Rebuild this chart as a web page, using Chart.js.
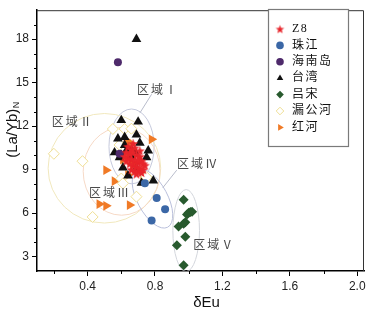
<!DOCTYPE html>
<html>
<head>
<meta charset="utf-8">
<script src="https://cdn.jsdelivr.net/npm/chart.js@4.4.1/dist/chart.umd.min.js"></script>
<style>
  html, body { margin: 0; padding: 0; background: #fff; }
  #wrap { width: 374px; height: 310px; }
</style>
</head>
<body>
<div id="wrap"><canvas id="chart" width="374" height="310"></canvas></div>
<script>
// ---- data: [δEu, (La/Yb)N] ----
const seriesNames = ["Z8", "珠江", "海南岛", "台湾", "吕宋", "漏公河", "红河"];

const z8 = [[0.64,10.6],[0.66,10.4],[0.68,10.5],[0.63,10.2],[0.65,10.1],[0.67,10.2],[0.69,10.0],
  [0.71,9.9],[0.64,9.8],[0.66,9.7],[0.68,9.6],[0.70,9.5],[0.72,9.6],[0.73,9.4],[0.67,9.3],
  [0.69,9.2],[0.71,9.1],[0.74,9.3],[0.70,8.9],[0.72,8.8],[0.68,8.9],[0.66,9.0],[0.62,9.9],
  [0.65,9.4],[0.70,9.7],[0.73,9.0],[0.69,8.7],[0.67,10.8],[0.71,10.3],[0.63,9.6]];
const zhujiang = [[0.74,8.05],[0.81,7.04],[0.86,6.27],[0.78,5.49]];
const hainan = [[0.58,16.4],[0.59,10.1]];
const taiwan = [[0.69,18.0],[0.60,12.4],[0.70,12.3],[0.58,11.13],[0.69,11.4],[0.62,11.24],
  [0.71,10.84],[0.56,10.18],[0.59,9.84],[0.76,10.31],[0.75,9.84],[0.61,9.13],[0.64,8.58],
  [0.69,9.09],[0.79,8.24],[0.72,8.07],[0.66,10.36],[0.68,10.24],[0.62,10.69],[0.63,10.31],
  [0.66,9.9],[0.60,10.0]];
const luzon = [[0.97,6.91],[1.00,6.02],[1.01,6.07],[1.02,6.09],[0.99,5.9],[0.98,5.36],
  [0.97,5.26],[0.94,5.07],[0.98,4.36],[0.93,3.78],[0.97,2.4]];
const lugong = [[0.20,10.09],[0.37,9.58],[0.55,11.8],[0.62,11.8],[0.66,11.82],[0.60,8.38],
  [0.61,8.05],[0.69,7.13],[0.43,5.73],[0.75,8.47],[0.59,10.7]];
const hongHe = [[0.63,11.02],[0.78,11.09],[0.61,9.69],[0.51,8.96],[0.56,8.2],[0.64,8.64],
  [0.73,8.24],[0.47,6.62],[0.51,6.5],[0.65,6.55],[0.65,10.85],[0.67,9.35],[0.63,10.0]];

const xTicks = [0.4, 0.8, 1.2, 1.6, 2.0];
const xMinor = [0.2, 0.6, 1.0, 1.4, 1.8];
const yTicks = [3, 6, 9, 12, 15, 18];
const yMinor = [4, 5, 7, 8, 10, 11, 13, 14, 16, 17, 19];

// region annotations (centre / half-axes in data units)
const regionNames = ["区域Ⅰ", "区域Ⅱ", "区域Ⅲ", "区域Ⅳ", "区域Ⅴ"];
const regionCentres = [[0.661,10.6],[0.50,9.09],[0.602,8.88],[0.785,7.0],[0.985,4.79]];
const regionHalfAxes = [[0.134,2.58],[0.334,3.78],[0.228,3.03],[0.09,2.24],[0.079,2.83]];
const regionTilt = [0, 0, 0, -28, 0];
const regionColors = ["#c5c9dc", "#f1e8bd", "#f6d9c6", "#b9bfdb", "#d3d6dc"];
const regionLabelAt = [[0.694,14.56],[0.188,12.29],[0.408,7.42],[0.931,9.42],[1.027,3.82]];
const leaders = [[[0.78,14.2],[0.71,12.9]], [[0.929,8.96],[0.846,7.74]]];

const toPts = arr => arr.map(p => ({ x: p[0], y: p[1] }));

// filled five-point star for Z8
function starImage(r, color) {
  const c = document.createElement("canvas");
  const s = Math.ceil(r * 2 + 2);
  c.width = s; c.height = s;
  const g = c.getContext("2d");
  g.beginPath();
  for (let i = 0; i < 10; i++) {
    const rr = i % 2 ? r * 0.42 : r;
    const a = -Math.PI / 2 + i * Math.PI / 5;
    g.lineTo(s / 2 + rr * Math.cos(a), s / 2 + 0.5 + rr * Math.sin(a));
  }
  g.closePath();
  g.fillStyle = color;
  g.fill();
  return c;
}
const starBig = starImage(5.2, "#e8252b");
const starSmall = starImage(4.5, "#e8252b");

const datasets = [
  { label: seriesNames[0], data: toPts(z8), pointStyle: starBig, legendStyle: starSmall,
    backgroundColor: "#e8252b", borderColor: "#e8252b", pointRadius: 5, borderWidth: 0 },
  { label: seriesNames[1], data: toPts(zhujiang), pointStyle: "circle",
    backgroundColor: "#3b67a6", borderColor: "#3b67a6", pointRadius: 4, borderWidth: 0 },
  { label: seriesNames[2], data: toPts(hainan), pointStyle: "circle",
    backgroundColor: "#4e2a6b", borderColor: "#4e2a6b", pointRadius: 4, borderWidth: 0 },
  { label: seriesNames[3], data: toPts(taiwan), pointStyle: "triangle",
    backgroundColor: "#111", borderColor: "#111", pointRadius: 5.6, borderWidth: 0 },
  { label: seriesNames[4], data: toPts(luzon), pointStyle: "rectRot",
    backgroundColor: "#285a2e", borderColor: "#285a2e", pointRadius: 5, borderWidth: 0 },
  { label: seriesNames[5], data: toPts(lugong), pointStyle: "rectRot",
    backgroundColor: "#fff", borderColor: "#efdf95", pointRadius: 5.5, borderWidth: 1 },
  { label: seriesNames[6], data: toPts(hongHe), pointStyle: "triangle", rotation: 90,
    backgroundColor: "#f07a26", borderColor: "#f07a26", pointRadius: 5.6, borderWidth: 0 }
];

const decor = {
  id: "decor",
  beforeDatasetsDraw(chart) {
    const { ctx, chartArea: a, scales: { x, y } } = chart;
    ctx.save();
    ctx.beginPath();
    ctx.rect(a.left, a.top, a.right - a.left, a.bottom - a.top);
    ctx.clip();
    regionCentres.forEach((c, i) => {
      const px = x.getPixelForValue(c[0]), py = y.getPixelForValue(c[1]);
      const rx = Math.abs(x.getPixelForValue(c[0] + regionHalfAxes[i][0]) - px);
      const ry = Math.abs(y.getPixelForValue(c[1] + regionHalfAxes[i][1]) - py);
      ctx.beginPath();
      ctx.ellipse(px, py, rx, ry, regionTilt[i] * Math.PI / 180, 0, Math.PI * 2);
      ctx.strokeStyle = regionColors[i];
      ctx.lineWidth = 1;
      ctx.stroke();
    });
    ctx.strokeStyle = "#b8bccb";
    leaders.forEach(l => {
      ctx.beginPath();
      ctx.moveTo(x.getPixelForValue(l[0][0]), y.getPixelForValue(l[0][1]));
      ctx.lineTo(x.getPixelForValue(l[1][0]), y.getPixelForValue(l[1][1]));
      ctx.stroke();
    });
    ctx.restore();
  },
  afterDatasetsDraw(chart) {
    const { ctx, chartArea: a, scales: { x, y } } = chart;
    ctx.save();
    // region labels
    ctx.font = '12px "Noto Sans CJK SC"';
    ctx.fillStyle = "#4a4a4a";
    ctx.textBaseline = "middle";
    ctx.textAlign = "left";
    ctx.letterSpacing = "2px";
    regionLabelAt.forEach((p, i) => {
      ctx.fillText(regionNames[i], x.getPixelForValue(p[0]), y.getPixelForValue(p[1]));
    });
    ctx.letterSpacing = "0px";

    // top/right frame
    ctx.strokeStyle = "#333";
    ctx.lineWidth = 1;
    ctx.beginPath();
    ctx.moveTo(a.left, a.top + 0.5);
    ctx.lineTo(a.right - 0.5, a.top + 0.5);
    ctx.lineTo(a.right - 0.5, a.bottom);
    ctx.stroke();

    // minor ticks
    ctx.strokeStyle = "#000";
    ctx.beginPath();
    xMinor.forEach(v => {
      const px = Math.round(x.getPixelForValue(v)) + 0.5;
      ctx.moveTo(px, a.bottom); ctx.lineTo(px, a.bottom + 3);
    });
    yMinor.forEach(v => {
      const py = Math.round(y.getPixelForValue(v)) + 0.5;
      ctx.moveTo(a.left, py); ctx.lineTo(a.left - 3, py);
    });
    ctx.stroke();

    // legend box
    const lx = 268.5, ly = 9.5, lw = 80, lh = 137;
    ctx.fillStyle = "#fff";
    ctx.fillRect(lx, ly, lw, lh);
    ctx.strokeStyle = "#7a7a7a";
    ctx.lineWidth = 1.2;
    ctx.strokeRect(lx, ly, lw, lh);
    chart.data.datasets.forEach((ds, i) => {
      const cy = 29 + i * 16.4;
      ctx.fillStyle = ds.backgroundColor;
      ctx.strokeStyle = ds.borderColor;
      ctx.lineWidth = ds.borderWidth || 1;
      Chart.helpers.drawPoint(ctx, {
        pointStyle: ds.legendStyle || ds.pointStyle,
        radius: 3.8,
        rotation: ds.rotation || 0,
        borderWidth: ds.borderWidth
      }, 280, cy);
      ctx.fillStyle = "#111";
      ctx.font = '12px "Liberation Serif", "Noto Sans CJK SC"';
      ctx.letterSpacing = "1.5px";
      ctx.textBaseline = "middle";
      ctx.fillText(ds.label, 292, cy);
    });
    ctx.letterSpacing = "0px";

    // axis titles
    ctx.fillStyle = "#111";
    ctx.font = '15px "Liberation Sans"';
    ctx.textAlign = "center";
    ctx.textBaseline = "middle";
    ctx.fillText("δEu", (a.left + a.right) / 2 + 6, 303);

    ctx.translate(13, 130);
    ctx.rotate(-Math.PI / 2);
    const main = "(La/Yb)";
    const w1 = ctx.measureText(main).width;
    ctx.font = '9px "Liberation Sans"';
    const w2 = ctx.measureText("N").width;
    const start = -(w1 + w2) / 2;
    ctx.textAlign = "left";
    ctx.font = '15px "Liberation Sans"';
    ctx.fillText(main, start, 0);
    ctx.font = '9px "Liberation Sans"';
    ctx.fillText("N", start + w1 + 0.5, 4);
    ctx.restore();
  }
};

new Chart(document.getElementById("chart"), {
  type: "scatter",
  data: { datasets },
  options: {
    responsive: false,
    animation: false,
    layout: { padding: { top: 1, right: 10, left: 0, bottom: 0 } },
    plugins: { legend: { display: false }, tooltip: { enabled: false } },
    scales: {
      x: {
        type: "linear", min: 0.1, max: 2.04,
        afterBuildTicks: s => { s.ticks = xTicks.map(v => ({ value: v })); },
        afterFit: s => { s.height = 39; },
        ticks: {
          padding: 3, color: "#222", font: { family: "Liberation Sans", size: 12 },
          callback: v => Number(v).toFixed(1)
        },
        grid: { drawOnChartArea: false, tickLength: 5, tickColor: "#000", tickWidth: 1 },
        border: { color: "#000", width: 1.5 }
      },
      y: {
        type: "linear", min: 2, max: 20,
        afterBuildTicks: s => { s.ticks = yTicks.map(v => ({ value: v })); },
        afterFit: s => { s.width = 37; },
        ticks: {
          padding: 3, color: "#222", font: { family: "Liberation Sans", size: 12 },
          callback: v => String(v)
        },
        grid: { drawOnChartArea: false, tickLength: 5, tickColor: "#000", tickWidth: 1 },
        border: { color: "#000", width: 1.5 }
      }
    }
  },
  plugins: [decor]
});
</script>
</body>
</html>
